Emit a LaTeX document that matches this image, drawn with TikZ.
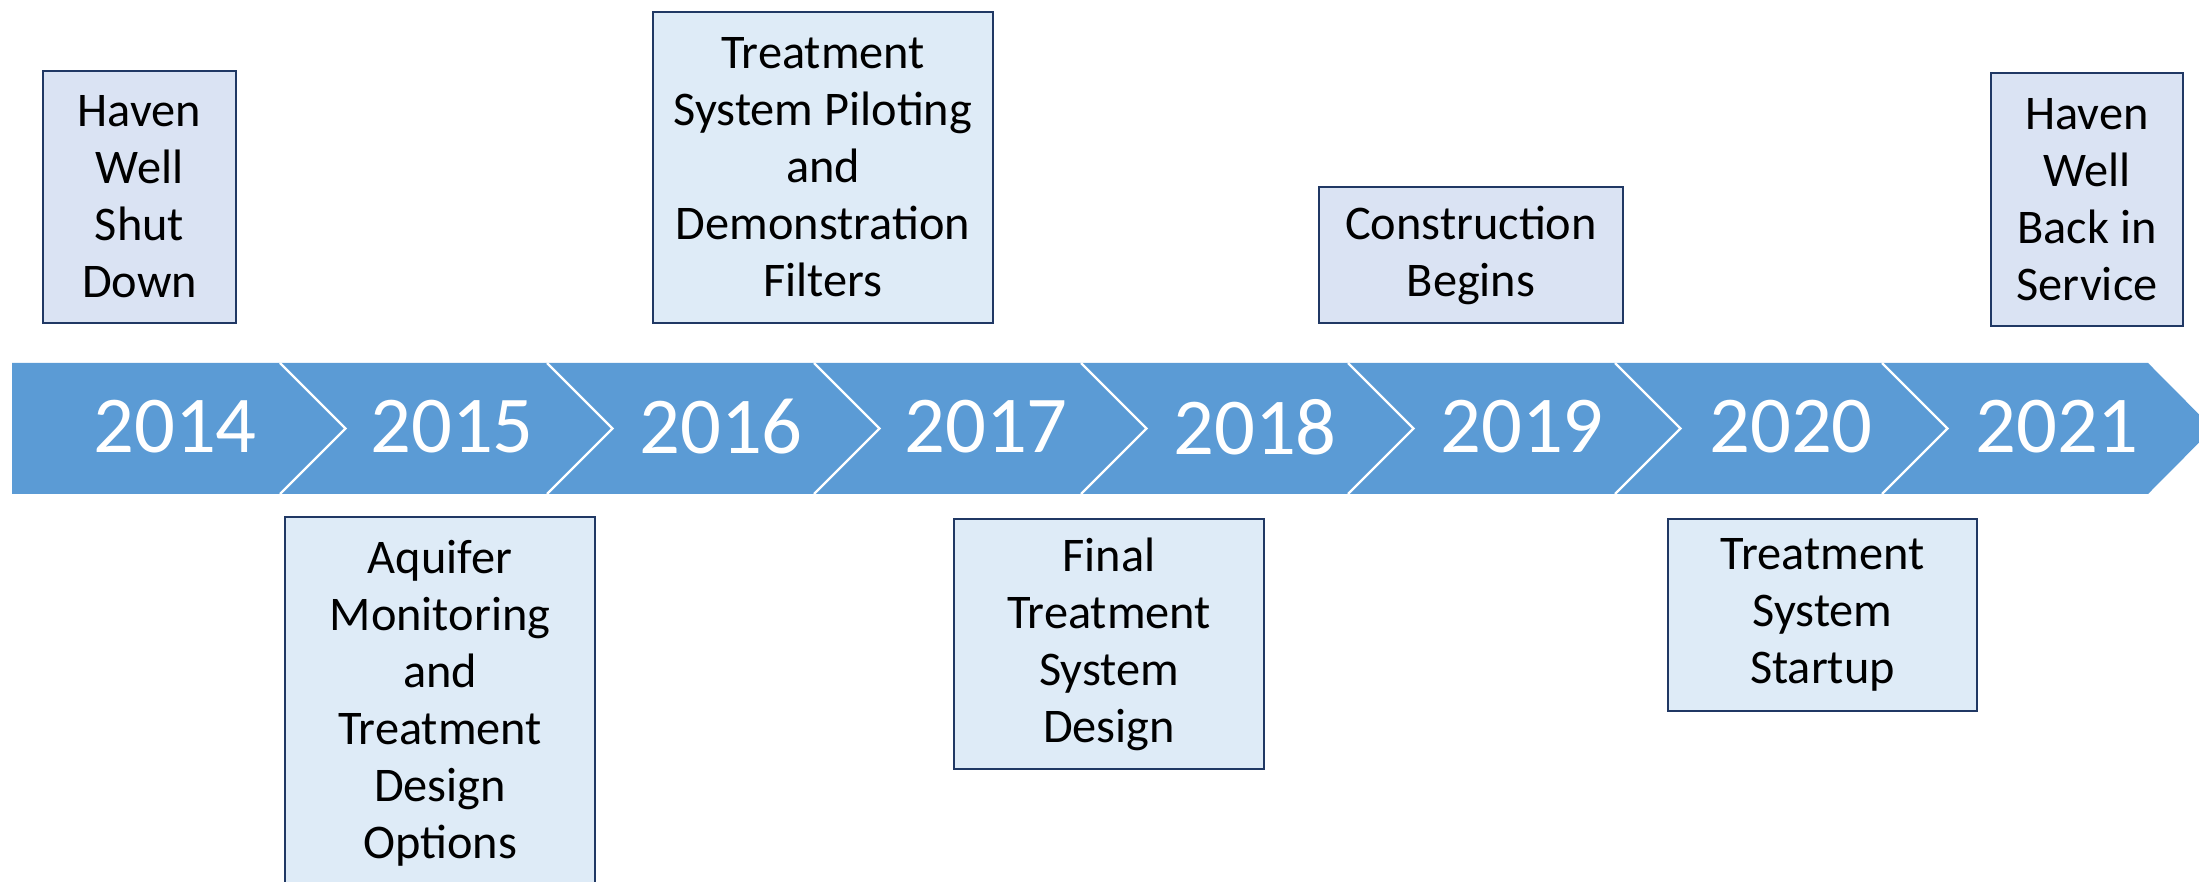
\documentclass[tikz,border=0pt]{standalone}
\usepackage{fontspec}
\setmainfont{Carlito}
\definecolor{bannerblue}{HTML}{5B9BD5}
\definecolor{boxfill}{HTML}{DEEBF7}
\definecolor{boxfillb}{HTML}{DAE3F3}
\definecolor{boxline}{HTML}{203864}

\begin{document}
\begin{tikzpicture}[x=0.3pt,y=-0.3pt,
  evt/.style={draw=boxline,line width=0.6pt,fill=boxfill,align=center,inner sep=0pt,font=\fontsize{14.5}{17.1}\selectfont},
  evtb/.style={evt,fill=boxfillb},
  yr/.style={text=white,inner sep=0pt,font=\fontsize{24.2}{29}\selectfont},
  sep/.style={white,line width=0.7pt}]
  \useasboundingbox (0,0) rectangle (2199,882);
  \clip (0,0) rectangle (2199,882);

  % banner with chevrons
  \fill[bannerblue] (12,363) -- (2148,363) -- (2213,428.5) -- (2148,494) -- (12,494) -- cycle;
  \draw[sep] (280,363) -- ++(65.5,65.5) -- ++(-65.5,65.5);
  \draw[sep] (547,363) -- ++(65.5,65.5) -- ++(-65.5,65.5);
  \draw[sep] (814,363) -- ++(65.5,65.5) -- ++(-65.5,65.5);
  \draw[sep] (1081,363) -- ++(65.5,65.5) -- ++(-65.5,65.5);
  \draw[sep] (1348,363) -- ++(65.5,65.5) -- ++(-65.5,65.5);
  \draw[sep] (1615,363) -- ++(65.5,65.5) -- ++(-65.5,65.5);
  \draw[sep] (1882,363) -- ++(65.5,65.5) -- ++(-65.5,65.5);

  \node[yr] (y14) at (175,427) {2014};
  \node[yr] (y15) at (452,427) {2015};
  \node[yr] (y16) at (721,427) {2016};
  \node[yr] (y17) at (986,427) {2017};
  \node[yr] (y18) at (1255,427) {2018};
  \node[yr] (y19) at (1522,427) {2019};
  \node[yr] (y20) at (1791,427) {2020};
  \node[yr] (y21) at (2057,427) {2021};

  % events above
  \node[evtb,minimum width=57.9pt,minimum height=75.6pt] (shut) at (139.5,197) {Haven\\Well\\Shut\\Down};
  \node[evt,minimum width=102pt,minimum height=93.3pt] (pilot) at (823,167.5) {Treatment\\System Piloting\\and\\Demonstration\\Filters};
  \node[evtb,minimum width=91.2pt,minimum height=40.8pt] (constr) at (1471,255) {Construction\\Begins};
  \node[evtb,minimum width=57.6pt,minimum height=75.9pt] (back) at (2087,199.5) {Haven\\Well\\Back in\\Service};

  % events below
  \node[evt,minimum width=93pt,minimum height=111.6pt] (aquif) at (440,703) {Aquifer\\Monitoring\\and\\Treatment\\Design\\Options};
  \node[evt,minimum width=93pt,minimum height=75pt] (final) at (1109,644) {Final\\Treatment\\System\\Design};
  \node[evt,minimum width=92.7pt,minimum height=57.6pt] (start) at (1822.5,615) {Treatment\\System\\Startup};
\end{tikzpicture}
\end{document}
